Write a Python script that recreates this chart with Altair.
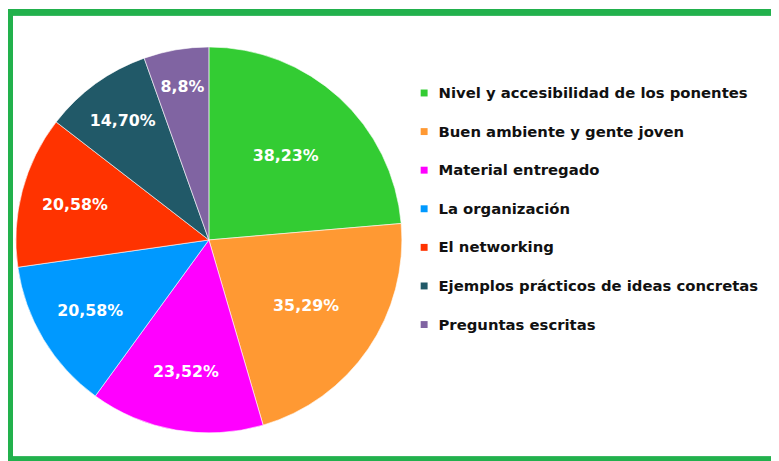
import altair as alt
import pandas as pd

categories = [
    "Nivel y accesibilidad de los ponentes",
    "Buen ambiente y gente joven",
    "Material entregado",
    "La organización",
    "El networking",
    "Ejemplos prácticos de ideas concretas",
    "Preguntas escritas",
]
values = [38.23, 35.29, 23.52, 20.58, 20.58, 14.70, 8.8]
labels = ["38,23%", "35,29%", "23,52%", "20,58%", "20,58%", "14,70%", "8,8%"]
colors = ["#33CC33", "#FF9933", "#FF00FF", "#0099FF", "#FF3300", "#215968", "#8064A2"]

df = pd.DataFrame({
    "cat": categories,
    "value": values,
    "label": labels,
    "order": list(range(len(categories))),
})

CX, CY, R = 203, 232, 195
FRAME = "#22B14C"
FONT = "DejaVu Sans"

color = alt.Color(
    "cat:N",
    scale=alt.Scale(domain=categories, range=colors),
    sort=categories,
    legend=alt.Legend(
        title=None,
        orient="none",
        legendX=413,
        legendY=76,
        symbolType="square",
        symbolSize=49,
        symbolStrokeWidth=0,
        labelFont=FONT,
        labelFontSize=15,
        labelFontWeight="bold",
        labelColor="#111111",
        labelOffset=7,
        rowPadding=23,
        labelLimit=400,
        padding=0,
    ),
)

base = alt.Chart(df)

pie = base.mark_arc(outerRadius=R, stroke="white", strokeWidth=0.6).encode(
    theta=alt.Theta("value:Q", stack=True),
    color=color,
    order=alt.Order("order:Q"),
    x=alt.value(CX),
    y=alt.value(CY),
)

text = base.transform_joinaggregate(
    total="sum(value)"
).transform_window(
    cum="sum(value)", sort=[alt.SortField("order")], frame=[None, 0]
).transform_calculate(
    mid="(datum.cum - datum.value / 2) / datum.total * 2 * PI",
    r="114 + (0.24 - datum.value / datum.total) * 230",
).mark_text(
    font=FONT, fontSize=16, fontWeight="bold", color="white"
).encode(
    theta=alt.Theta("mid:Q", scale=None),
    radius=alt.Radius("r:Q", scale=None),
    text="label:N",
    x=alt.value(CX),
    y=alt.value(CY),
)

frame_top = alt.Chart(df).mark_rule(color=FRAME, strokeWidth=6).encode(
    x=alt.value(0), x2=alt.value(800), y=alt.value(2)
)
frame_left = alt.Chart(df).mark_rule(color=FRAME, strokeWidth=5).encode(
    x=alt.value(2.5), y=alt.value(0), y2=alt.value(480)
)
frame_bottom = alt.Chart(df).mark_rule(color=FRAME, strokeWidth=4).encode(
    x=alt.value(0), x2=alt.value(800), y=alt.value(453)
)

chart = alt.layer(pie, text, frame_top, frame_left, frame_bottom).properties(
    width=771, height=453, padding=0, autosize=alt.AutoSizeParams(type="none")
).configure_view(stroke=None).configure(background="white")

chart.save("out.html", embed_options={"renderer": "svg", "actions": False})
